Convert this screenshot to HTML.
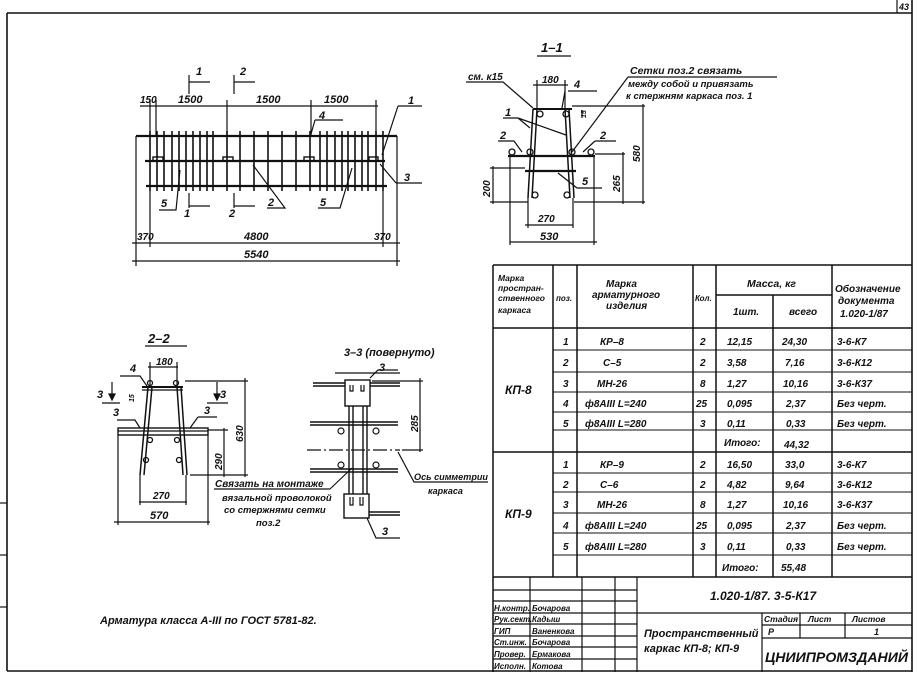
<!DOCTYPE html>
<html><head><meta charset="utf-8"><style>
html,body{margin:0;padding:0;background:#fff;}
svg{display:block;}
text{font-family:"Liberation Sans Narrow","Liberation Sans","DejaVu Sans",sans-serif;font-style:italic;font-weight:bold;fill:#111;}
</style></head><body>
<svg width="918" height="676" viewBox="0 0 918 676" xmlns="http://www.w3.org/2000/svg">
<g stroke="#111" fill="none" stroke-width="1.2">
<line x1="7" y1="13" x2="912" y2="13" stroke-width="1.6"/>
<line x1="7" y1="13" x2="7" y2="671" stroke-width="1.6"/>
<line x1="912" y1="0" x2="912" y2="672" stroke-width="1.6"/>
<line x1="7" y1="671" x2="912" y2="671" stroke-width="1.6"/>
<line x1="897" y1="0" x2="897" y2="13"/>
<line x1="0" y1="503" x2="7" y2="503"/><line x1="0" y1="555" x2="7" y2="555"/><line x1="0" y1="607" x2="7" y2="607"/>

<line x1="136" y1="136" x2="397" y2="136" stroke-width="2.2"/>
<line x1="145" y1="161" x2="385" y2="161" stroke-width="2.2"/>
<line x1="146" y1="186" x2="387" y2="186" stroke-width="2.2"/>
<g stroke-width="1.6">
<line x1="150" y1="131" x2="150" y2="191"/><line x1="157" y1="131" x2="157" y2="191"/><line x1="164" y1="131" x2="164" y2="191"/><line x1="172" y1="131" x2="172" y2="191"/><line x1="179" y1="131" x2="179" y2="191"/><line x1="186" y1="131" x2="186" y2="191"/><line x1="193" y1="131" x2="193" y2="191"/><line x1="200" y1="131" x2="200" y2="191"/><line x1="207" y1="131" x2="207" y2="191"/><line x1="213" y1="131" x2="213" y2="191"/><line x1="227" y1="131" x2="227" y2="191"/><line x1="240" y1="131" x2="240" y2="191"/><line x1="254" y1="131" x2="254" y2="191"/><line x1="268" y1="131" x2="268" y2="191"/><line x1="282" y1="131" x2="282" y2="191"/><line x1="296" y1="131" x2="296" y2="191"/><line x1="310" y1="131" x2="310" y2="191"/><line x1="320" y1="131" x2="320" y2="191"/><line x1="327" y1="131" x2="327" y2="191"/><line x1="335" y1="131" x2="335" y2="191"/><line x1="342" y1="131" x2="342" y2="191"/><line x1="348" y1="131" x2="348" y2="191"/><line x1="355" y1="131" x2="355" y2="191"/><line x1="362" y1="131" x2="362" y2="191"/><line x1="368" y1="131" x2="368" y2="191"/><line x1="376" y1="131" x2="376" y2="191"/><line x1="383" y1="131" x2="383" y2="191"/>
</g>
<rect x="153" y="157" width="10" height="4" stroke-width="1.4"/><rect x="223" y="157" width="10" height="4" stroke-width="1.4"/><rect x="304" y="157" width="10" height="4" stroke-width="1.4"/><rect x="369" y="157" width="9" height="4" stroke-width="1.4"/>
<line x1="140" y1="106" x2="378" y2="106"/>
<line x1="150" y1="100" x2="150" y2="136"/><line x1="156" y1="100" x2="156" y2="136"/><line x1="227" y1="100" x2="227" y2="136"/><line x1="311" y1="100" x2="311" y2="136"/><line x1="376" y1="100" x2="376" y2="136"/>
<line x1="136" y1="136" x2="136" y2="266"/><line x1="397" y1="136" x2="397" y2="266"/><line x1="150" y1="191" x2="150" y2="247"/><line x1="383" y1="191" x2="383" y2="247"/>
<line x1="132" y1="243" x2="400" y2="243"/><line x1="132" y1="261" x2="400" y2="261"/>
<path d="M189 75 V94 M189 82 H210 M234 75 V94 M234 82 H255"/>
<path d="M189 193 V208 M189 206 H210 M234 193 V208 M234 206 H255"/>
<path d="M398 106 H422 M398 106 L382 155 M396 183 H422 M396 183 L380 164 M315 120 H343 M315 120 L311 134 M159 210 H176 L180 170 M267 208 H285 L253 165 M318 208 H340 L352 168"/>

<line x1="537" y1="56" x2="571" y2="56"/>
<line x1="533" y1="109" x2="572" y2="109" stroke-width="2"/>
<path d="M533 109 L528 198 M537 109 L532 198 M565 109 L570 198 M569 109 L574 198" stroke-width="1.5"/>
<line x1="508" y1="156" x2="595" y2="156" stroke-width="2.2"/>
<line x1="525" y1="171" x2="576" y2="171" stroke-width="2.2"/>
<g stroke-width="1.3"><circle cx="540" cy="114" r="3"/><circle cx="566" cy="114" r="3"/><circle cx="512" cy="152" r="3"/><circle cx="591" cy="152" r="3"/><circle cx="530" cy="152" r="3"/><circle cx="572" cy="152" r="3"/><circle cx="535" cy="195" r="3"/><circle cx="567" cy="195" r="3"/></g>
<line x1="533" y1="85" x2="568" y2="85"/><line x1="537" y1="80" x2="537" y2="109"/><line x1="565" y1="80" x2="565" y2="109"/>
<line x1="572" y1="106" x2="645" y2="106"/><line x1="574" y1="202" x2="645" y2="202"/>
<line x1="643" y1="104" x2="643" y2="204"/><line x1="623" y1="152" x2="623" y2="204"/><line x1="595" y1="154" x2="625" y2="154"/>
<line x1="493" y1="166" x2="493" y2="204"/><line x1="490" y1="168" x2="525" y2="168"/><line x1="490" y1="202" x2="528" y2="202"/>
<line x1="582" y1="110" x2="582" y2="118"/>
<line x1="525" y1="225" x2="573" y2="225"/><line x1="510" y1="242" x2="597" y2="242"/>
<line x1="528" y1="198" x2="528" y2="228"/><line x1="573" y1="198" x2="573" y2="228"/><line x1="510" y1="156" x2="510" y2="245"/><line x1="594" y1="156" x2="594" y2="245"/>
<path d="M466 82 H503 L533 108 M568 91 H597 M565 91 L562 108 M503 118 H518 M518 118 L530 128 M518 118 L566 135 M498 141 H514 L522 152 M595 141 H616 M595 141 L583 152 M577 188 H602 M577 188 L558 173 M628 77 H777 M628 77 L572 152"/>

<line x1="145" y1="346" x2="187" y2="346"/>
<line x1="142" y1="387" x2="183" y2="387" stroke-width="2"/><line x1="142" y1="390" x2="183" y2="390"/>
<path d="M148 387 L140 475 M152 387 L144 475 M177 387 L183 475 M181 387 L187 475" stroke-width="1.5"/>
<rect x="118" y="428" width="90" height="7" stroke-width="1.4"/><line x1="118" y1="431" x2="208" y2="431"/>
<g stroke-width="1.3"><circle cx="150" cy="383" r="2.5"/><circle cx="176" cy="383" r="2.5"/><circle cx="150" cy="440" r="2.5"/><circle cx="177" cy="440" r="2.5"/><circle cx="146" cy="460" r="2.5"/><circle cx="179" cy="460" r="2.5"/></g>
<line x1="148" y1="367" x2="178" y2="367"/><line x1="150" y1="362" x2="150" y2="387"/><line x1="177" y1="362" x2="177" y2="387"/>
<line x1="185" y1="381" x2="248" y2="381"/><line x1="245" y1="378" x2="245" y2="477"/><line x1="190" y1="475" x2="248" y2="475"/>
<line x1="208" y1="430" x2="228" y2="430"/><line x1="224" y1="428" x2="224" y2="477"/>
<line x1="139" y1="502" x2="187" y2="502"/><line x1="114" y1="522" x2="210" y2="522"/>
<line x1="140" y1="475" x2="140" y2="505"/><line x1="186" y1="475" x2="186" y2="505"/><line x1="118" y1="435" x2="118" y2="525"/><line x1="208" y1="435" x2="208" y2="525"/>
<path d="M112 382 V400 M102 403 H120 M217 382 V400 M207 403 H228 M117 420 H135 L140 428 M198 417 H217 M198 417 L190 428 M120 376 H140 L147 386"/>
<path d="M112 400 l-3 -6 h6 z M217 400 l-3 -6 h6 z" fill="#111"/>

<line x1="335" y1="373" x2="400" y2="373"/>
<rect x="345" y="380" width="25" height="26" stroke-width="1.4"/>
<rect x="344" y="494" width="25" height="24" stroke-width="1.4"/>
<path d="M349 406 V494 M353 406 V494 M363 406 V494 M367 406 V494" stroke-width="1.4"/>
<path d="M313 383 H345 M313 386 H345 M370 383 H400 M370 386 H400 M310 422 H398 M310 425 H398 M310 469 H398 M310 472 H398 M369 512 H400 M369 515 H400" stroke-width="1.4"/>
<path d="M350 385 v6 h3 v-6 M361 385 v6 h3 v-6 M350 497 v8 h3 v-8 M360 497 v8 h3 v-8"/>
<line x1="307" y1="450" x2="400" y2="450" stroke-dasharray="14 3 2 3"/>
<g stroke-width="1.2"><circle cx="341" cy="431" r="3"/><circle cx="376" cy="431" r="3"/><circle cx="341" cy="465" r="3"/><circle cx="376" cy="465" r="3"/></g>
<line x1="372" y1="381" x2="423" y2="381"/><line x1="420" y1="378" x2="420" y2="452"/><line x1="402" y1="450" x2="423" y2="450"/>
<path d="M370 378 L378 370 H398 M398 452 L414 482 H488 M214 489 H330 M330 489 L352 468 M367 518 L376 538 H400"/>

<g stroke-width="1.5">
<line x1="493" y1="265" x2="912" y2="265"/><line x1="493" y1="265" x2="493" y2="672"/>
<line x1="493" y1="328" x2="912" y2="328"/><line x1="716" y1="295" x2="832" y2="295"/>
<line x1="553" y1="265" x2="553" y2="577"/><line x1="577" y1="265" x2="577" y2="577"/><line x1="693" y1="265" x2="693" y2="577"/><line x1="716" y1="265" x2="716" y2="577"/><line x1="773" y1="295" x2="773" y2="577"/><line x1="832" y1="265" x2="832" y2="577"/>
<line x1="493" y1="452" x2="912" y2="452"/><line x1="493" y1="577" x2="912" y2="577"/>
</g>
<g stroke-width="1">
<line x1="553" y1="350" x2="912" y2="350"/><line x1="553" y1="372" x2="912" y2="372"/><line x1="553" y1="392" x2="912" y2="392"/><line x1="553" y1="412" x2="912" y2="412"/><line x1="553" y1="430" x2="912" y2="430"/>
<line x1="553" y1="473" x2="912" y2="473"/><line x1="553" y1="492" x2="912" y2="492"/><line x1="553" y1="513" x2="912" y2="513"/><line x1="553" y1="533" x2="912" y2="533"/><line x1="553" y1="555" x2="912" y2="555"/>
</g>
<g stroke-width="1.2">
<line x1="530" y1="577" x2="530" y2="672"/><line x1="582" y1="577" x2="582" y2="672"/><line x1="615" y1="577" x2="615" y2="672"/><line x1="637" y1="577" x2="637" y2="672"/>
<line x1="493" y1="590" x2="637" y2="590"/><line x1="493" y1="601" x2="637" y2="601"/><line x1="493" y1="613" x2="912" y2="613"/><line x1="493" y1="624" x2="637" y2="624"/><line x1="493" y1="636" x2="637" y2="636"/><line x1="493" y1="647" x2="637" y2="647"/><line x1="493" y1="659" x2="637" y2="659"/>
<line x1="762" y1="613" x2="762" y2="672"/><line x1="800" y1="613" x2="800" y2="638"/><line x1="845" y1="613" x2="845" y2="638"/><line x1="762" y1="625" x2="912" y2="625"/><line x1="762" y1="638" x2="912" y2="638"/>
</g>
</g>

<g font-size="11">
<text x="899" y="10" font-size="9">43</text>
<text x="196" y="75">1</text><text x="240" y="75">2</text>
<text x="184" y="217">1</text><text x="229" y="217">2</text>
<text x="140" y="103" font-size="10">150</text><text x="178" y="103">1500</text><text x="256" y="103">1500</text><text x="324" y="103">1500</text>
<text x="319" y="119">4</text><text x="408" y="104">1</text><text x="404" y="181">3</text>
<text x="161" y="207">5</text><text x="268" y="206">2</text><text x="320" y="206">5</text>
<text x="137" y="240" font-size="10">370</text><text x="244" y="240">4800</text><text x="374" y="240" font-size="10">370</text><text x="244" y="258">5540</text>
<text x="541" y="52" font-size="13">1–1</text>
<text x="468" y="80" font-size="10">см. к15</text>
<text x="542" y="83" font-size="10">180</text>
<text x="574" y="88">4</text><text x="505" y="116">1</text><text x="500" y="139">2</text><text x="600" y="139">2</text><text x="582" y="185">5</text>
<text x="630" y="74" font-size="10.5">Сетки  поз.2 связать</text>
<text x="628" y="87" font-size="9.5">между собой и привязать</text>
<text x="626" y="99" font-size="9.5">к стержням  каркаса  поз. 1</text>
<text x="538" y="222" font-size="10">270</text><text x="540" y="240">530</text>
<text transform="translate(640,162) rotate(-90)" font-size="10">580</text>
<text transform="translate(620,192) rotate(-90)" font-size="10">265</text>
<text transform="translate(490,197) rotate(-90)" font-size="10">200</text>
<text transform="translate(586,118) rotate(-90)" font-size="7">15</text>

<text x="148" y="343" font-size="13">2–2</text>
<text x="156" y="365" font-size="10">180</text>
<text x="130" y="372">4</text><text x="97" y="398">3</text><text x="220" y="398">3</text>
<text x="113" y="416">3</text><text x="204" y="414">3</text>
<text x="153" y="499" font-size="10">270</text><text x="150" y="519">570</text>
<text transform="translate(243,442) rotate(-90)" font-size="10">630</text>
<text transform="translate(222,470) rotate(-90)" font-size="10">290</text>
<text transform="translate(134,402) rotate(-90)" font-size="7">15</text>

<text x="344" y="356" font-size="11">3–3 (повернуто)</text>
<text x="379" y="371">3</text>
<text transform="translate(418,432) rotate(-90)" font-size="10">285</text>
<text x="414" y="480" font-size="9" textLength="74" lengthAdjust="spacingAndGlyphs">Ось симметрии</text>
<text x="428" y="494" font-size="9">каркаса</text>
<text x="215" y="487" font-size="10">Связать на монтаже</text>
<text x="222" y="501" font-size="9.5">вязальной проволокой</text>
<text x="224" y="513" font-size="9.5">со стержнями сетки</text>
<text x="256" y="526" font-size="9.5">поз.2</text>
<text x="382" y="535">3</text>

<text x="100" y="624" font-size="11">Арматура  класса  А-III по ГОСТ 5781-82.</text>
</g>

<g font-size="10">
<text x="498" y="281" font-size="8.5">Марка</text><text x="498" y="291" font-size="8.5">простран-</text><text x="498" y="301" font-size="8.5">ственного</text><text x="498" y="313" font-size="8.5">каркаса</text>
<text x="556" y="301" font-size="8">поз.</text>
<text x="606" y="287" font-size="10">Марка</text><text x="592" y="298" font-size="10">арматурного</text><text x="606" y="309" font-size="10">изделия</text>
<text x="695" y="301" font-size="8">Кол.</text>
<text x="747" y="287" font-size="10.5">Масса, кг</text>
<text x="733" y="315">1шт.</text><text x="789" y="315">всего</text>
<text x="835" y="292">Обозначение</text><text x="838" y="304">документа</text><text x="840" y="317">1.020-1/87</text>

<text x="505" y="394" font-size="12">КП-8</text>
<text x="505" y="518" font-size="12">КП-9</text>

<text x="563" y="345">1</text><text x="563" y="366">2</text><text x="563" y="387">3</text><text x="563" y="407">4</text><text x="563" y="427">5</text>
<text x="600" y="345">КР–8</text><text x="603" y="366">С–5</text><text x="597" y="387">МН-26</text><text x="585" y="407">ф8АIII    L=240</text><text x="585" y="427">ф8АIII    L=280</text>
<text x="700" y="345">2</text><text x="700" y="366">2</text><text x="700" y="387">8</text><text x="696" y="407">25</text><text x="700" y="427">3</text>
<text x="727" y="345">12,15</text><text x="727" y="366">3,58</text><text x="727" y="387">1,27</text><text x="727" y="407">0,095</text><text x="727" y="427">0,11</text><text x="724" y="446">Итого:</text>
<text x="782" y="345">24,30</text><text x="785" y="366">7,16</text><text x="783" y="387">10,16</text><text x="786" y="407">2,37</text><text x="786" y="427">0,33</text><text x="784" y="448">44,32</text>
<text x="837" y="345">3-6-К7</text><text x="837" y="366">3-6-К12</text><text x="837" y="387">3-6-К37</text><text x="837" y="407">Без черт.</text><text x="837" y="427">Без черт.</text>

<text x="563" y="468">1</text><text x="563" y="488">2</text><text x="563" y="508">3</text><text x="563" y="529">4</text><text x="563" y="550">5</text>
<text x="600" y="468">КР–9</text><text x="600" y="488">С–6</text><text x="597" y="508">МН-26</text><text x="585" y="529">ф8АIII   L=240</text><text x="585" y="550">ф8АIII   L=280</text>
<text x="700" y="468">2</text><text x="700" y="488">2</text><text x="700" y="508">8</text><text x="696" y="529">25</text><text x="700" y="550">3</text>
<text x="727" y="468">16,50</text><text x="727" y="488">4,82</text><text x="727" y="508">1,27</text><text x="727" y="529">0,095</text><text x="727" y="550">0,11</text><text x="722" y="571">Итого:</text>
<text x="785" y="468">33,0</text><text x="785" y="488">9,64</text><text x="783" y="508">10,16</text><text x="786" y="529">2,37</text><text x="786" y="550">0,33</text><text x="781" y="571">55,48</text>
<text x="837" y="468">3-6-К7</text><text x="837" y="488">3-6-К12</text><text x="837" y="508">3-6-К37</text><text x="837" y="529">Без черт.</text><text x="837" y="550">Без черт.</text>
</g>

<g font-size="8">
<text x="710" y="600" font-size="12">1.020-1/87. 3-5-К17</text>
<text x="494" y="611">Н.контр.</text><text x="532" y="611">Бочарова</text>
<text x="494" y="622">Рук.сект.</text><text x="532" y="622">Кадыш</text>
<text x="494" y="634">ГИП</text><text x="532" y="634">Ваненкова</text>
<text x="494" y="645">Ст.инж.</text><text x="532" y="645">Бочарова</text>
<text x="494" y="657">Провер.</text><text x="532" y="657">Ермакова</text>
<text x="494" y="669">Исполн.</text><text x="532" y="669">Котова</text>
<text x="644" y="637" font-size="11">Пространственный</text>
<text x="644" y="652" font-size="11">каркас   КП-8; КП-9</text>
<text x="764" y="622" font-size="8.5" textLength="34" lengthAdjust="spacingAndGlyphs">Стадия</text><text x="808" y="622" font-size="8.5">Лист</text><text x="852" y="622" font-size="8.5">Листов</text>
<text x="768" y="635" font-size="9">Р</text><text x="874" y="635" font-size="9">1</text>
<text x="765" y="662" font-size="14" textLength="143" lengthAdjust="spacingAndGlyphs">ЦНИИПРОМЗДАНИЙ</text>
</g>
</svg>
</body></html>
